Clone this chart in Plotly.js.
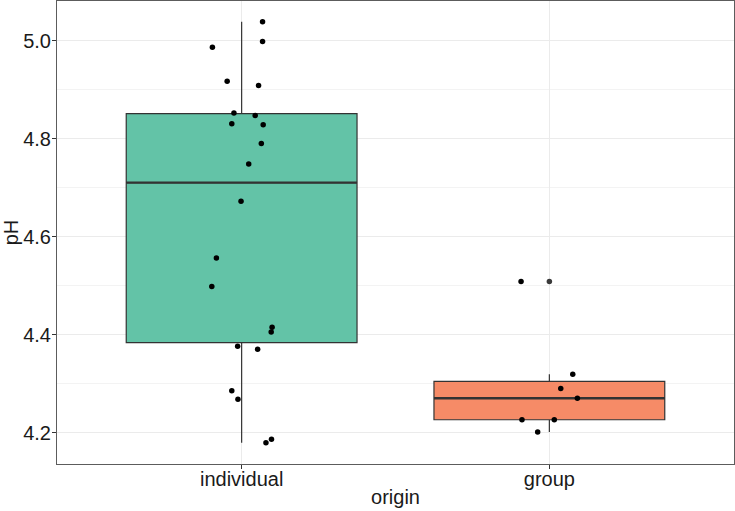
<!DOCTYPE html>
<html>
<head>
<meta charset="utf-8">
<script src="https://cdn.plot.ly/plotly-3.0.1.min.js"></script>
<style>
  html, body { margin: 0; padding: 0; background: #ffffff; }
  #chart { width: 735px; height: 511px; }
</style>
</head>
<body>
<div id="chart"></div>
<script>
// Soil pH by sample origin: boxplots with jittered observations on top.
const origins = ['individual', 'group'];

const phIndividual = [5.039, 4.999, 4.987, 4.918, 4.909, 4.853, 4.848, 4.831, 4.829, 4.791, 4.749,
                      4.673, 4.557, 4.499, 4.416, 4.406, 4.377, 4.371, 4.286, 4.269, 4.187, 4.180];
const jitterIndividual = [0.068, 0.068, -0.095, -0.047, 0.055, -0.025, 0.044, -0.032, 0.070, 0.064, 0.023,
                          -0.002, -0.082, -0.097, 0.099, 0.096, -0.013, 0.052, -0.032, -0.012, 0.097, 0.079];

const phGroup = [4.509, 4.320, 4.291, 4.271, 4.227, 4.227, 4.202];
const jitterGroup = [-0.092, 0.076, 0.037, 0.091, -0.089, 0.016, -0.038];

const boxColors = ['#63C3A7', '#F68B67'];

// Quantile with linear interpolation between order statistics (R type 7)
function quantile(sorted, p) {
  const h = (sorted.length - 1) * p;
  const lo = Math.floor(h);
  const hi = Math.min(lo + 1, sorted.length - 1);
  return sorted[lo] + (h - lo) * (sorted[hi] - sorted[lo]);
}

function boxStats(values) {
  const s = values.slice().sort((a, b) => a - b);
  const q1 = quantile(s, 0.25), med = quantile(s, 0.5), q3 = quantile(s, 0.75);
  const iqr = q3 - q1;
  const lo = q1 - 1.5 * iqr, hi = q3 + 1.5 * iqr;
  const inside = s.filter(v => v >= lo && v <= hi);
  return {
    q1, med, q3,
    lowerfence: inside[0],
    upperfence: inside[inside.length - 1],
    outliers: s.filter(v => v < lo || v > hi)
  };
}

const groups = [
  { ph: phIndividual, jitter: jitterIndividual },
  { ph: phGroup, jitter: jitterGroup }
];

const boxWidth = 0.75;
const traces = [];

groups.forEach((g, i) => {
  const st = boxStats(g.ph);
  traces.push({
    type: 'box',
    x: [i],
    q1: [st.q1], median: [st.med], q3: [st.q3],
    lowerfence: [st.lowerfence], upperfence: [st.upperfence],
    width: boxWidth,
    whiskerwidth: 0,
    boxpoints: false,
    fillcolor: boxColors[i],
    line: { color: '#333333', width: 1.2 },
    hoverinfo: 'skip',
    showlegend: false
  });
  // thicker median bar
  traces.push({
    type: 'scatter', mode: 'lines',
    x: [i - boxWidth / 2, i + boxWidth / 2], y: [st.med, st.med],
    line: { color: '#333333', width: 2.4 },
    hoverinfo: 'skip', showlegend: false
  });
  // outliers of the box statistics, drawn at the category centre
  if (st.outliers.length) {
    traces.push({
      type: 'scatter', mode: 'markers',
      x: st.outliers.map(() => i), y: st.outliers,
      marker: { color: '#3a3a3a', size: 5.5 },
      hoverinfo: 'skip', showlegend: false
    });
  }
});

groups.forEach((g, i) => {
  traces.push({
    type: 'scatter', mode: 'markers',
    x: g.ph.map((_, k) => i + g.jitter[k]), y: g.ph,
    marker: { color: '#000000', size: 5.5 },
    hoverinfo: 'skip', showlegend: false
  });
});

const font = { family: '"Liberation Sans", Arial, sans-serif', size: 20, color: '#1a1a1a' };

const layout = {
  width: 735, height: 511,
  margin: { l: 57, r: 1, t: 1, b: 47 },
  paper_bgcolor: '#ffffff', plot_bgcolor: '#ffffff',
  font: font,
  boxmode: 'overlay',
  showlegend: false,
  xaxis: {
    range: [-0.6, 1.6],
    tickvals: [0, 1], ticktext: origins,
    showgrid: true, gridcolor: '#ebebeb', gridwidth: 1,
    zeroline: false,
    showline: true, mirror: true, linecolor: '#5c5c5c', linewidth: 1,
    ticks: 'outside', ticklen: 4, tickcolor: '#333333', tickwidth: 1,
    ticklabelstandoff: -7,
    tickfont: font,
    title: { text: 'origin', font: font, standoff: 0 }
  },
  yaxis: {
    range: [4.1367, 5.0816],
    tickvals: [4.2, 4.4, 4.6, 4.8, 5.0],
    ticktext: ['4.2', '4.4', '4.6', '4.8', '5.0'],
    showgrid: true, gridcolor: '#ebebeb', gridwidth: 1,
    minor: { tickvals: [4.3, 4.5, 4.7, 4.9], showgrid: true, gridcolor: '#f3f3f3', gridwidth: 1, ticks: '' },
    zeroline: false,
    showline: true, mirror: true, linecolor: '#5c5c5c', linewidth: 1,
    ticks: 'outside', ticklen: 4, tickcolor: '#333333', tickwidth: 1,
    ticklabelstandoff: -3,
    tickfont: font,
    title: { text: 'pH', font: font, standoff: 2 }
  }
};

Plotly.newPlot('chart', traces, layout, { displayModeBar: false, staticPlot: true });
</script>
</body>
</html>
